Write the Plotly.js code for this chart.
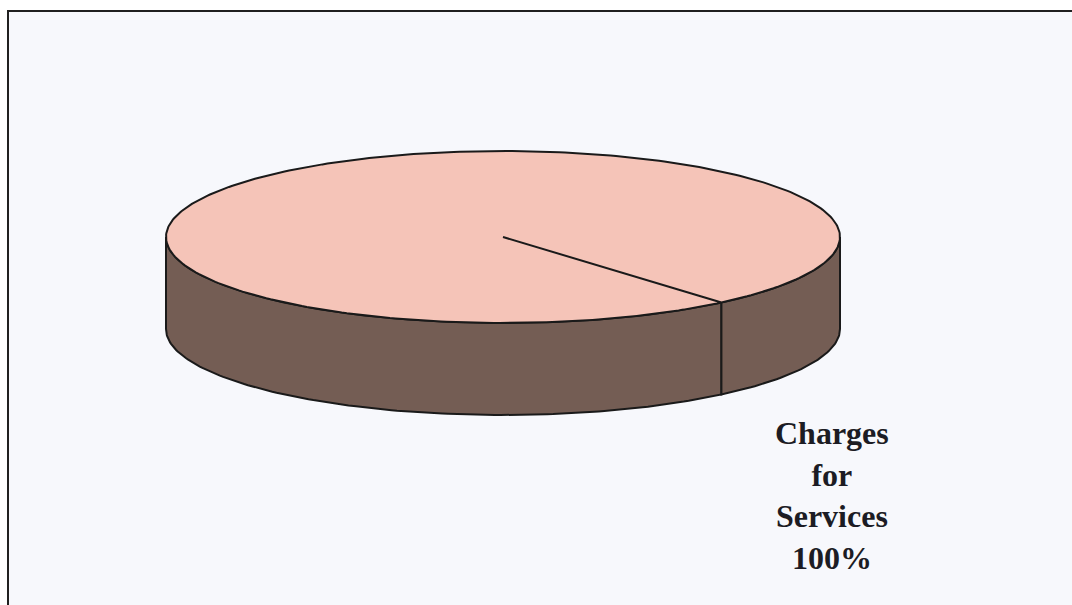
<!DOCTYPE html>
<html>
<head>
<meta charset="utf-8">
<script src="https://cdn.plot.ly/plotly-3.0.1.min.js"></script>
<style>
  html, body { margin: 0; padding: 0; background: #ffffff; }
  #chart { width: 1072px; height: 605px; }
</style>
</head>
<body>
<div id="chart"></div>
<script>
// Revenue sources (share of total)
const categories = ["Charges for Services"];
const values = [100];

// Styling for the 3-D pie
const topColors = ["#f5c4b8"];
const sideColors = ["#745d54"];
const edgeColor = "#1a1a1a";

// Pie geometry in page pixels (x right, y down)
const pie = { cx: 503, cy: 237, rx: 337, ry: 86, depth: 92, startDeg: 49.6 };

function pt(deg, dz) {
  const r = deg * Math.PI / 180;
  return [pie.cx + pie.rx * Math.cos(r), pie.cy + pie.ry * Math.sin(r) + dz];
}

function arc(a, b, dz) {
  const xs = [], ys = [];
  const n = Math.max(2, Math.ceil(Math.abs(b - a)));
  for (let i = 0; i <= n; i++) {
    const p = pt(a + (b - a) * i / n, dz);
    xs.push(p[0]); ys.push(p[1]);
  }
  return { xs, ys };
}

const total = values.reduce((s, v) => s + v, 0);
const sideTraces = [], topTraces = [], annotations = [];
let angle = pie.startDeg;

values.forEach((v, i) => {
  const sweep = 360 * v / total;
  const a0 = angle, a1 = angle + sweep;

  // front wall: parts of the slice lying in the visible half (0..180 deg, mod 360)
  [0, 360, -360].forEach(off => {
    const lo = Math.max(a0, off), hi = Math.min(a1, off + 180);
    if (hi > lo) {
      const t = arc(lo, hi, 0), b = arc(hi, lo, pie.depth);
      sideTraces.push({
        type: "scatter", mode: "lines", fill: "toself",
        x: t.xs.concat(b.xs, [t.xs[0]]), y: t.ys.concat(b.ys, [t.ys[0]]),
        fillcolor: sideColors[i], line: { color: edgeColor, width: 2 },
        hoverinfo: "skip", showlegend: false
      });
    }
  });

  // top wedge
  const t = arc(a0, a1, 0);
  topTraces.push({
    type: "scatter", mode: "lines", fill: "toself",
    x: [pie.cx].concat(t.xs, [pie.cx]), y: [pie.cy].concat(t.ys, [pie.cy]),
    fillcolor: topColors[i], line: { color: edgeColor, width: 2 },
    name: categories[i], hoverinfo: "name", showlegend: false
  });

  const pct = Math.round(100 * v / total);
  annotations.push({
    x: 832, y: 495, xref: "x", yref: "y", showarrow: false,
    xanchor: "center", yanchor: "middle", align: "center",
    text: "<b>" + categories[i].replace(/ /g, "<br>") + "<br>" + pct + "%</b>",
    font: { family: "Liberation Serif, Times New Roman, serif", size: 32, color: "#1c1c24" }
  });
  angle = a1;
});

const layout = {
  width: 1072, height: 605,
  margin: { l: 0, r: 0, t: 0, b: 0 },
  paper_bgcolor: "#ffffff", plot_bgcolor: "#ffffff",
  xaxis: { range: [0, 1072], visible: false, fixedrange: true },
  yaxis: { range: [605, 0], visible: false, fixedrange: true },
  shapes: [{
    type: "rect", xref: "x", yref: "y", x0: 8, y0: 11, x1: 1090, y1: 620,
    fillcolor: "#f7f8fc", line: { color: "#202020", width: 2 }, layer: "below"
  }],
  annotations: annotations
};

Plotly.newPlot("chart", sideTraces.concat(topTraces), layout, { displayModeBar: false, staticPlot: true });
</script>
</body>
</html>
